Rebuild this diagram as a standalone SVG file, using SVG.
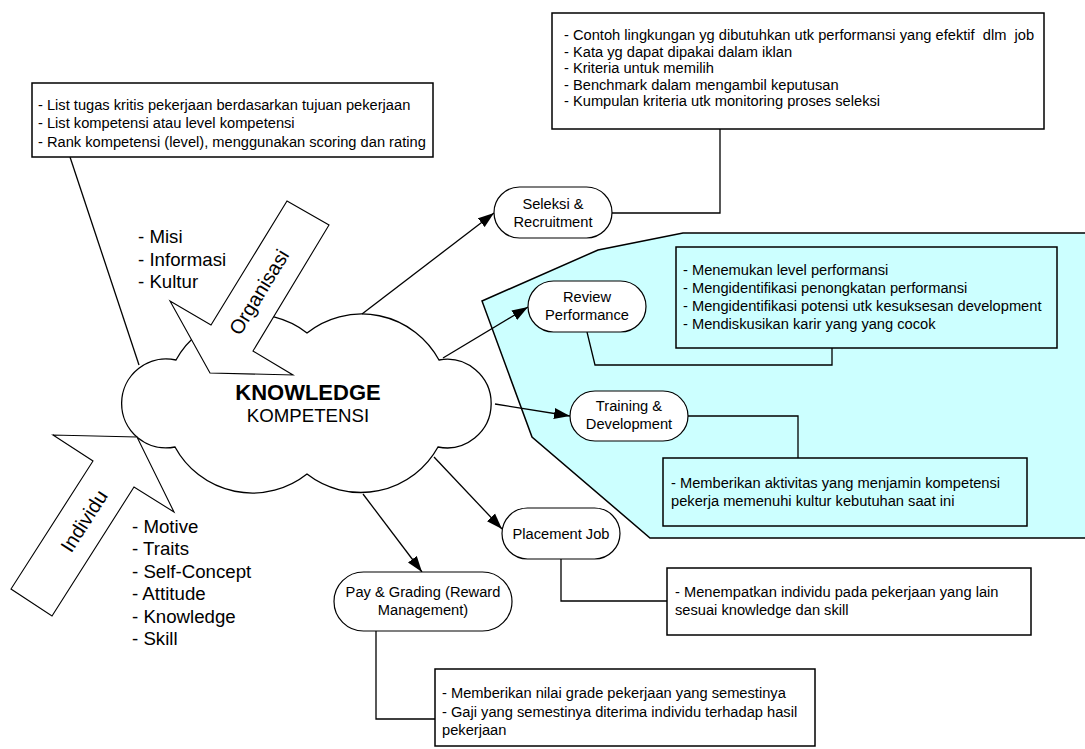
<svg xmlns="http://www.w3.org/2000/svg" width="1085" height="749" viewBox="0 0 1085 749">
<defs>
<style>
text{font-family:"Liberation Sans",Arial,sans-serif;fill:#000}
.t{font-size:14.67px}
.big{font-size:18.67px}
.ctr{text-anchor:middle}
.box{fill:#fff;stroke:#000;stroke-width:1.5}
.cbox{fill:#CCFFFF;stroke:#000;stroke-width:1.5}
.node{fill:#fff;stroke:#000;stroke-width:1.2}
.ln{fill:none;stroke:#000;stroke-width:1.3}
.blk{fill:#fff;stroke:#000;stroke-width:1.1}
</style>
<marker id="ah" markerUnits="userSpaceOnUse" markerWidth="17" markerHeight="12" refX="16" refY="6" orient="auto">
<path d="M0,0.5 L16,6 L0,11.5 z" fill="#000"/>
</marker>
</defs>
<rect width="1085" height="749" fill="#fff"/>

<g id="area-cyan">
<polygon points="482,301 598,250 683,233 1092,233 1092,538 650,538 532,437" fill="#CCFFFF" stroke="#000" stroke-width="1.5"/>
</g>

<g id="cloud">
<path d="M175,447 A44.5,44.5 0 1 1 176,360 A88,88 0 0 1 307,333 A88,88 0 0 1 439,360 A44.3,44.3 0 1 1 438,447 A88,88 0 0 1 307,474 A88,88 0 0 1 175,447 Z" fill="#fff" stroke="#000" stroke-width="1.3"/>
<text x="308" y="400" class="ctr" style="font-size:22px;font-weight:bold">KNOWLEDGE</text>
<text x="308" y="422" class="ctr big">KOMPETENSI</text>
</g>

<g id="arrow-organisasi">
<polygon class="blk" points="287,201 329,225 253,351 293,375 210,373 170,301 211,325"/>
<text transform="translate(259,292) rotate(-58.5)" class="ctr" style="font-size:20px" dominant-baseline="central">Organisasi</text>
</g>

<g id="arrow-individu">
<polygon class="blk" points="53,435 93,461 11,589 52,616 134,487 174,512 137,437"/>
<text transform="translate(84,521) rotate(-57.4)" class="ctr" style="font-size:20px" dominant-baseline="central">Individu</text>
</g>

<g id="list-organisasi">
<text x="138" y="243" class="big">- Misi</text>
<text x="138" y="266" class="big">- Informasi</text>
<text x="138" y="288" class="big">- Kultur</text>
</g>

<g id="list-individu">
<text x="132" y="533" class="big">- Motive</text>
<text x="132" y="555" class="big">- Traits</text>
<text x="132" y="578" class="big">- Self-Concept</text>
<text x="132" y="600" class="big">- Attitude</text>
<text x="132" y="623" class="big">- Knowledge</text>
<text x="132" y="645" class="big">- Skill</text>
</g>

<g id="connectors">
<polyline class="ln" points="70,157 139,365"/>
<line class="ln" x1="362" y1="314" x2="494" y2="213" marker-end="url(#ah)"/>
<line class="ln" x1="443" y1="358" x2="528" y2="307" marker-end="url(#ah)"/>
<line class="ln" x1="495" y1="404" x2="570" y2="416" marker-end="url(#ah)"/>
<line class="ln" x1="434" y1="457" x2="502" y2="529" marker-end="url(#ah)"/>
<line class="ln" x1="363" y1="494" x2="422" y2="572" marker-end="url(#ah)"/>
<polyline class="ln" points="612,213 720,213 720,129"/>
<polyline class="ln" points="587,332 595,365 832,365 832,348"/>
<polyline class="ln" points="688,416 798,416 798,458"/>
<polyline class="ln" points="561,559 561,601 667,601"/>
<polyline class="ln" points="376,631 376,719 435,719"/>
</g>

<g id="node-seleksi">
<rect class="node" x="494" y="187" width="118" height="51" rx="25.5"/>
<text x="553" y="209" class="t ctr">Seleksi &amp;</text>
<text x="553" y="227" class="t ctr">Recruitment</text>
</g>

<g id="node-review">
<rect class="node" x="528" y="281" width="118" height="51" rx="25.5"/>
<text x="587" y="302" class="t ctr">Review</text>
<text x="587" y="320" class="t ctr">Performance</text>
</g>

<g id="node-training">
<rect class="node" x="570" y="391" width="118" height="50" rx="25"/>
<text x="629" y="411" class="t ctr">Training &amp;</text>
<text x="629" y="429" class="t ctr">Development</text>
</g>

<g id="node-placement">
<rect class="node" x="502" y="508" width="118" height="51" rx="25.5"/>
<text x="561" y="539" class="t ctr">Placement Job</text>
</g>

<g id="node-pay">
<rect class="node" x="334" y="572" width="178" height="59" rx="29.5"/>
<text x="423" y="597" class="t ctr">Pay &amp; Grading (Reward</text>
<text x="423" y="615" class="t ctr">Management)</text>
</g>

<g id="box-analisis">
<rect class="box" x="32" y="83" width="401" height="74"/>
<text x="38" y="110" class="t">- List tugas kritis pekerjaan berdasarkan tujuan pekerjaan</text>
<text x="38" y="128" class="t">- List kompetensi atau level kompetensi</text>
<text x="38" y="147" class="t">- Rank kompetensi (level), menggunakan scoring dan rating</text>
</g>

<g id="box-seleksi">
<rect class="box" x="552" y="13" width="492" height="116"/>
<text x="564" y="40" class="t" style="white-space:pre">- Contoh lingkungan yg dibutuhkan utk performansi yang efektif  dlm  job</text>
<text x="564" y="56.5" class="t">- Kata yg dapat dipakai dalam iklan</text>
<text x="564" y="73" class="t">- Kriteria untuk memilih</text>
<text x="564" y="89.5" class="t">- Benchmark dalam mengambil keputusan</text>
<text x="564" y="106" class="t">- Kumpulan kriteria utk monitoring proses seleksi</text>
</g>

<g id="box-review">
<rect class="cbox" x="676" y="247" width="381" height="101"/>
<text x="683" y="275" class="t">- Menemukan level performansi</text>
<text x="683" y="293" class="t">- Mengidentifikasi penongkatan performansi</text>
<text x="683" y="311" class="t">- Mengidentifikasi potensi utk kesuksesan development</text>
<text x="683" y="329" class="t">- Mendiskusikan karir yang yang cocok</text>
</g>

<g id="box-training">
<rect class="cbox" x="663" y="458" width="364" height="68"/>
<text x="671" y="488" class="t">- Memberikan aktivitas yang menjamin kompetensi</text>
<text x="671" y="506" class="t">pekerja memenuhi kultur kebutuhan saat ini</text>
</g>

<g id="box-placement">
<rect class="box" x="667" y="568" width="364" height="67"/>
<text x="675" y="597" class="t">- Menempatkan individu pada pekerjaan yang lain</text>
<text x="675" y="615" class="t">sesuai knowledge dan skill</text>
</g>

<g id="box-pay">
<rect class="box" x="435" y="669" width="380" height="77"/>
<text x="442" y="698" class="t">- Memberikan nilai grade pekerjaan yang semestinya</text>
<text x="442" y="717" class="t">- Gaji yang semestinya diterima individu terhadap hasil</text>
<text x="442" y="735" class="t">pekerjaan</text>
</g>
</svg>
